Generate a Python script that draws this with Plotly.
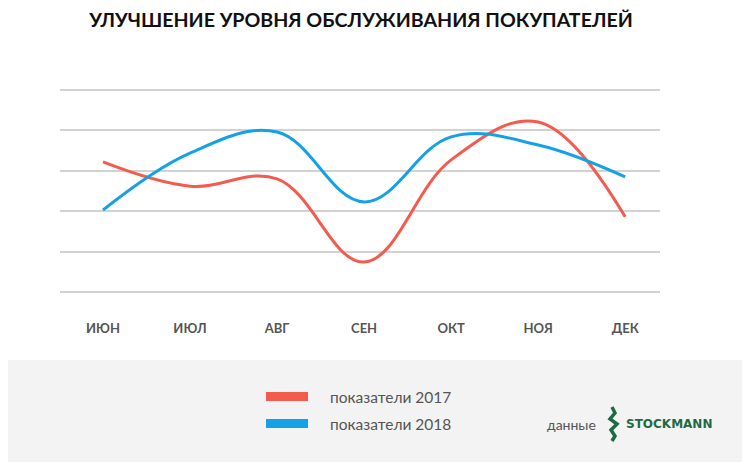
import plotly.graph_objects as go

# Месяцы и значения (оценка по картинке)
meses = ['ИЮН', 'ИЮЛ', 'АВГ', 'СЕН', 'ОКТ', 'НОЯ', 'ДЕК']
valores_2017 = [32.2, 26.2, 28.0, 7.4, 32.7, 42.1, 18.6]
valores_2018 = [20.3, 34.4, 39.6, 22.3, 38.4, 36.4, 28.5]

nome_2017 = 'показатели 2017'
nome_2018 = 'показатели 2018'
titulo = 'УЛУЧШЕНИЕ УРОВНЯ ОБСЛУЖИВАНИЯ ПОКУПАТЕЛЕЙ'

cor_2017 = '#f35b4f'
cor_2018 = '#16a0e6'
verde = '#1d6b45'

W, H = 750, 465
OFF = 8  # margem do body da página
L, R, T, B = 52, 98, 78, 177


# converte pixels da imagem de referência para coordenadas "paper"
def px(x):
    return (x - OFF - L) / (W - L - R)


def py(y):
    return (H - B - (y - OFF)) / (H - T - B)


fig = go.Figure()
fig.add_trace(go.Scatter(x=meses, y=valores_2017, mode='lines', name=nome_2017,
                         line=dict(color=cor_2017, width=3, shape='spline', smoothing=1.1)))
fig.add_trace(go.Scatter(x=meses, y=valores_2018, mode='lines', name=nome_2018,
                         line=dict(color=cor_2018, width=3, shape='spline', smoothing=1.1)))

shapes = [
    # faixa cinza do rodapé
    dict(type='rect', xref='paper', yref='paper', x0=px(0), x1=px(760), y0=py(360), y1=py(462),
         fillcolor='#f3f3f3', line_width=0, layer='below'),
    # legenda
    dict(type='rect', xref='paper', yref='paper', x0=px(266), x1=px(308), y0=py(392), y1=py(401),
         fillcolor=cor_2017, line_width=0),
    dict(type='rect', xref='paper', yref='paper', x0=px(266), x1=px(308), y0=py(419), y1=py(428),
         fillcolor=cor_2018, line_width=0),
]

# logo "S" aproximado
pts = [(612, 407), (615, 413), (610, 419), (617, 424), (611, 430), (615, 436), (612, 441)]
caminho = 'M ' + ' L '.join(f'{px(a):.5f},{py(b):.5f}' for a, b in pts)
shapes.append(dict(type='path', xref='paper', yref='paper', path=caminho,
                   line=dict(color=verde, width=3.5)))

annotations = [
    dict(text=nome_2017, x=px(328), y=py(397), xref='paper', yref='paper', xanchor='left',
         yanchor='middle', showarrow=False, font=dict(size=15.5, color='#555555')),
    dict(text=nome_2018, x=px(328), y=py(424), xref='paper', yref='paper', xanchor='left',
         yanchor='middle', showarrow=False, font=dict(size=15.5, color='#555555')),
    dict(text='данные', x=px(545), y=py(424), xref='paper', yref='paper', xanchor='left',
         yanchor='middle', showarrow=False, font=dict(size=14, color='#555555')),
    dict(text='<b>STOCKMANN</b>', x=px(624), y=py(424), xref='paper', yref='paper', xanchor='left',
         yanchor='middle', showarrow=False,
         font=dict(size=12, color=verde, family='DejaVu Sans')),
]

fig.update_layout(
    width=W, height=H,
    margin=dict(l=L, r=R, t=T, b=B),
    plot_bgcolor='white', paper_bgcolor='white',
    font=dict(family='Lato, sans-serif', color='#555555'),
    title=dict(text='<b>' + titulo + '</b>', x=353 / W, xanchor='center', y=0.974, yanchor='middle',
               font=dict(size=19.6, color='#111111', family='Lato, sans-serif')),
    showlegend=False,
    shapes=shapes,
    annotations=annotations,
    xaxis=dict(range=[-0.494, 6.4], showgrid=False, zeroline=False, showline=False,
               ticks='outside', ticklen=20, tickcolor='rgba(0,0,0,0)',
               tickfont=dict(size=13, color='#555555', family='Lato, sans-serif', weight='bold')),
    yaxis=dict(range=[-1, 51], tickvals=[0, 10, 20, 30, 40, 50], showticklabels=False,
               gridcolor='#d2d2d2', gridwidth=1.5, zeroline=False, showline=False),
)

fig.write_html('out.html')
